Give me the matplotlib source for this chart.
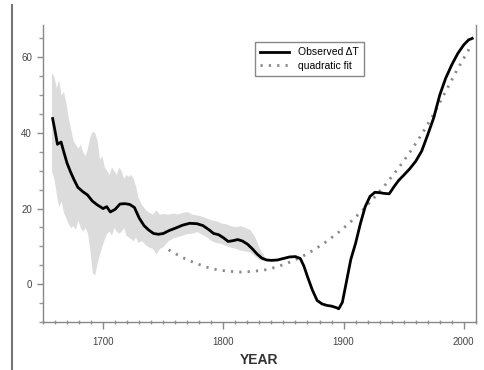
import numpy as np
import matplotlib.pyplot as plt
from matplotlib.lines import Line2D
from matplotlib.ticker import MultipleLocator

plt.rcParams['font.family'] = ['Liberation Sans', 'DejaVu Sans']

# Observed temperature change
obs_years = [1658, 1660, 1662, 1665, 1667, 1670, 1673, 1676, 1679, 1683, 1687, 1691,
             1695, 1700, 1703, 1706, 1710, 1714, 1718, 1722, 1726, 1730, 1734, 1738,
             1742, 1746, 1750, 1755, 1760, 1766, 1772, 1778, 1783, 1788, 1792, 1796,
             1800, 1804, 1808, 1812, 1816, 1820, 1824, 1828, 1832, 1836, 1840, 1845,
             1850, 1855, 1860, 1864, 1867, 1870, 1874, 1878, 1882, 1886, 1890, 1894,
             1896, 1899, 1902, 1906, 1910, 1914, 1918, 1922, 1926, 1930, 1934, 1938,
             1942, 1946, 1950, 1955, 1960, 1965, 1970, 1975, 1980, 1985, 1990, 1995,
             2000, 2004, 2007]
obs_vals = [43.8, 40.5, 37.0, 37.6, 35.3, 32.0, 29.6, 27.5, 25.6, 24.5, 23.6, 22.0,
            21.0, 20.0, 20.5, 19.1, 19.8, 21.2, 21.3, 21.1, 20.3, 17.5, 15.5, 14.3,
            13.4, 13.2, 13.4, 14.2, 14.8, 15.6, 16.1, 16.0, 15.5, 14.4, 13.4, 13.1,
            12.3, 11.3, 11.5, 11.8, 11.4, 10.6, 9.4, 8.0, 6.9, 6.4, 6.3, 6.4,
            6.8, 7.2, 7.3, 6.8, 4.8, 2.0, -1.5, -4.3, -5.2, -5.6, -5.8, -6.2,
            -6.5, -4.8, 0.0, 6.5, 10.8, 16.0, 20.5, 23.2, 24.3, 24.2, 24.0, 23.9,
            25.8, 27.5, 28.8, 30.5, 32.5, 35.2, 39.5, 44.0, 50.0, 54.5, 58.0, 61.0,
            63.3, 64.6, 65.0]

# Quadratic fit curve
fit_years = [1665, 1675, 1685, 1695, 1705, 1715, 1725, 1735, 1745, 1755, 1765, 1775,
             1785, 1795, 1805, 1815, 1825, 1835, 1845, 1855, 1865, 1875, 1885, 1895,
             1905, 1915, 1925, 1935, 1945, 1955, 1965, 1975, 1985, 1995, 2005]
fit_vals = [39.4, 34.8, 30.4, 26.4, 22.7, 19.3, 16.2, 13.5, 11.1, 9.0, 7.2, 5.8,
            4.6, 3.8, 3.4, 3.2, 3.4, 3.8, 4.6, 5.8, 7.2, 9.0, 11.1, 13.5,
            16.2, 19.3, 22.7, 26.4, 30.4, 34.8, 39.6, 45.0, 51.0, 57.0, 62.5]

# Uncertainty band of the reconstruction
band_years = [1657, 1659, 1661, 1663, 1665, 1667, 1669, 1671, 1673, 1675, 1677, 1679,
              1681, 1683, 1685, 1687, 1689, 1691, 1693, 1695, 1697, 1699, 1701, 1703,
              1705, 1707, 1709, 1711, 1713, 1715, 1717, 1719, 1721, 1723, 1725, 1727,
              1729, 1732, 1735, 1738, 1741, 1744, 1747, 1750, 1754, 1758, 1762, 1766,
              1770, 1774, 1778, 1782, 1786, 1790, 1794, 1798, 1802, 1806, 1810, 1814,
              1818, 1822, 1826, 1830, 1834]
band_hi = [56, 55, 52, 54, 50, 51, 48, 44, 41, 38, 37, 36,
           37, 35, 34, 36, 39, 40.5, 40, 38, 33, 34, 31, 30,
           29, 31, 30, 29, 31, 30, 28, 29, 28.5, 29, 28, 26,
           23, 21, 19.8, 19, 18.5, 19.6, 18.5, 18.7, 18.5, 18.8, 18.6, 19,
           19.2, 18.5, 18.3, 18, 17.5, 17, 16.8, 16.2, 16, 15.5, 15.2, 15.5,
           15, 14.5, 12.6, 9.5, 7.5]
band_lo = [30, 28, 24, 20.5, 22, 19, 17.5, 16, 15, 15.5, 14.5, 17,
           15, 14, 15, 13.5, 9, 3, 2.5, 5.5, 8, 10, 12, 13.5,
           14, 13, 15, 14, 13.5, 14, 15, 13, 12.5, 12, 11.5, 12.5,
           11, 11.5, 10.5, 9.8, 9.5, 8, 9.5, 10, 11.5, 12.2, 12.6, 13,
           13.4, 13.5, 13.9, 13.2, 12.5, 11.5, 11, 10.8, 10.2, 9.8, 9.5, 9,
           8.8, 8.5, 7.5, 6.5, 6.2]

fig = plt.figure(figsize=(4.85, 3.7), dpi=100)
ax = fig.add_axes([0.0887, 0.1297, 0.8923, 0.8023])

ax.plot(fit_years, fit_vals, linestyle=(0, (0.8, 2.2)), color='#8a8a8a', lw=2,
        label='quadratic fit', zorder=1)
ax.fill_between(band_years, band_lo, band_hi, color='#dcdcdc', linewidth=0, zorder=2)
ax.plot(obs_years, obs_vals, color='black', lw=2, label='Observed \u0394T', zorder=3)

ax.set_xlim(1650, 2010)
ax.set_ylim(-10, 68.5)
ax.xaxis.set_major_locator(MultipleLocator(100))
ax.xaxis.set_minor_locator(MultipleLocator(10))
ax.yaxis.set_major_locator(MultipleLocator(20))
ax.yaxis.set_minor_locator(MultipleLocator(5))

ax.spines['top'].set_visible(False)
for s in ['left', 'right', 'bottom']:
    ax.spines[s].set_color('#888888')
    ax.spines[s].set_linewidth(1)

ax.tick_params(axis='x', which='major', direction='out', length=5, width=1,
               color='#888888', labelsize=7, labelcolor='#444444', pad=6)
ax.tick_params(axis='x', which='minor', direction='inout', length=3, width=1,
               color='#999999')
ax.tick_params(axis='y', which='major', direction='out', length=4, width=1,
               color='#888888', labelsize=7, labelcolor='#444444', pad=4)
ax.tick_params(axis='y', which='minor', direction='out', length=3, width=1,
               color='#999999')

ax.set_xlabel('YEAR', fontsize=10, fontweight='bold', color='#333333', labelpad=4)

handles, labels = ax.get_legend_handles_labels()
leg = ax.legend(handles[::-1], labels[::-1], loc='upper left',
                bbox_to_anchor=(0.478, 0.96), fontsize=7.5, frameon=True,
                fancybox=False, edgecolor='#888888', framealpha=1,
                handlelength=2.8, borderpad=0.5, labelspacing=0.3)
leg.get_frame().set_linewidth(1)

fig.add_artist(Line2D([12 / 485, 12 / 485], [0, 1 - 5 / 370], color='#777777', lw=1.5))

fig.savefig('out.png', dpi=100)
